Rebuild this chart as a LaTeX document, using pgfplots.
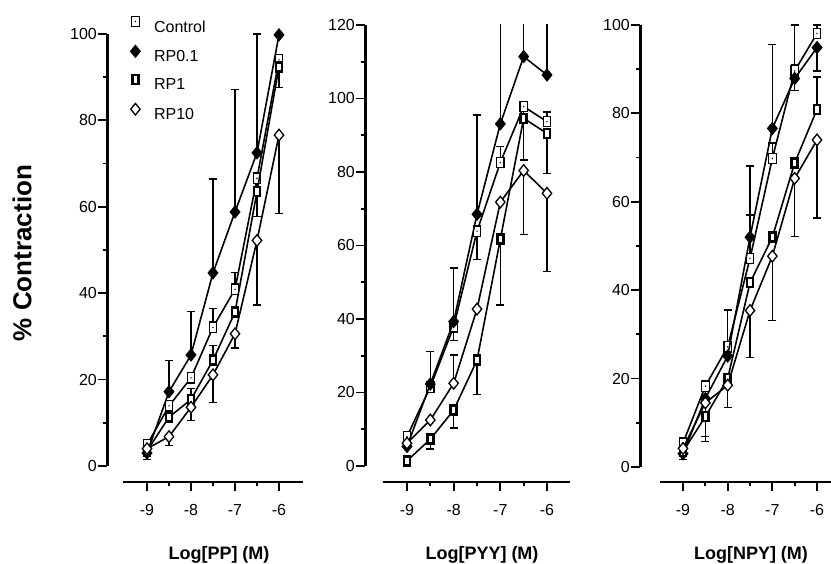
\documentclass[border=0pt]{standalone}
\usepackage{fontspec}
\setmainfont{Liberation Sans}
\usepackage{pgfplots}
\usepackage{pgfplotstable}
\pgfplotsset{compat=1.18}

% marks of the four series
\pgfdeclareplotmark{ctl}{%
  \pgfpathrectangle{\pgfqpoint{-3.8pt}{-5.2pt}}{\pgfqpoint{7.6pt}{10.4pt}}\pgfusepathqfillstroke
  \begin{pgfscope}\pgfsetfillcolor{black}\pgfpathcircle{\pgfpointorigin}{0.8pt}\pgfusepathqfill\end{pgfscope}}
\pgfdeclareplotmark{thk}{%
  \begin{pgfscope}\pgfsetlinewidth{2.6pt}%
  \pgfpathrectangle{\pgfqpoint{-3pt}{-4.5pt}}{\pgfqpoint{6pt}{9pt}}\pgfusepathqfillstroke\end{pgfscope}}
\pgfdeclareplotmark{dia}{%
  \pgfpathmoveto{\pgfqpoint{0pt}{5.8pt}}\pgfpathlineto{\pgfqpoint{4.7pt}{0pt}}%
  \pgfpathlineto{\pgfqpoint{0pt}{-5.8pt}}\pgfpathlineto{\pgfqpoint{-4.7pt}{0pt}}%
  \pgfpathclose\pgfusepathqfillstroke}

\pgfplotsset{
  panel/.style={anchor=south west, clip mode=individual,
    axis x line*=bottom, axis y line*=left, axis line style={draw=none},
    tick align=outside, major tick length=9pt, minor tick length=4.5pt,
    every tick/.style={black, line width=1.8pt},
    xtick={-9,-8,-7,-6}, xticklabels={-9,-8,-7,-6}, minor xtick={-8.5,-7.5,-6.5},
    ticklabel style={font=\fontsize{16}{16}\selectfont},
    yticklabel style={inner sep=1pt},
    xticklabel style={yshift=-10pt},
    /pgf/number format/assume math mode=true},
  ctl/.style={black, line width=1.6pt, mark=ctl, mark options={fill=white, line width=1.3pt}},
  rpa/.style={black, line width=1.6pt, mark=dia, mark options={fill=black, line width=1.3pt}},
  rpb/.style={black, line width=1.6pt, mark=thk, mark options={fill=white}},
  rpc/.style={black, line width=1.6pt, mark=dia, mark options={fill=white, line width=1.3pt}},
  ebar/.style={black, forget plot, only marks, mark=none,
    error bars/.cd, y dir=#1, y explicit,
    error bar style={line width=1.3pt, black},
    error mark=|,
    error mark options={mark size=4pt, line width=1.3pt, black}},
}

\pgfplotstableread{
x ctl rpa rpb rpc
-9 4.9 3.0 3.5 4.0
-8.5 13.9 17.2 11.3 6.8
-8 20.4 25.7 15.4 13.6
-7.5 32.1 44.7 24.5 21.1
-7 40.9 58.8 35.6 30.6
-6.5 66.6 72.5 63.5 52.2
-6 94.0 99.8 92.4 76.6
}\pp

\pgfplotstableread{
x ctl rpa rpb rpc
-9 8.0 5.3 1.4 6.2
-8.5 21.5 22.3 7.3 12.5
-8 37.9 39.3 15.2 22.5
-7.5 63.9 68.5 28.8 42.7
-7 82.6 93.1 61.7 71.8
-6.5 97.8 111.4 94.6 80.4
-6 93.7 106.4 90.5 74.2
}\pyy

\pgfplotstableread{
x ctl rpa rpb rpc
-9 5.4 3.0 3.5 4.2
-8.5 18.3 15.5 11.4 14.5
-8 27.2 25.1 20.0 18.5
-7.5 47.2 52.0 41.7 35.4
-7 69.8 76.6 52.0 47.7
-6.5 89.6 87.9 68.8 65.3
-6 98.1 94.9 80.9 74.0
}\npy

\begin{document}
\begin{tikzpicture}
\path[use as bounding box] (0pt,0pt) rectangle (831pt,564pt);

% ---- PP
\begin{axis}[panel, at={(107pt,82pt)}, x=44pt, y=4.32pt,
  xmin=-9.909, xmax=-5.4545, ymin=-3.7037, ymax=100,
  ytick={0,20,...,100}, minor ytick={10,30,...,90},
  legend style={at={(0.12,1.04)}, anchor=north west, draw=none, fill=none,
    font=\fontsize{16}{16}\selectfont, row sep=11pt, column sep=13pt,
    inner sep=0pt, nodes={inner sep=1pt}},
  legend cell align=left,
  legend image code/.code={\draw[#1] plot coordinates {(4pt,5.5pt)};}]
\draw[line width=3pt] (axis cs:-9.909,0) -- (axis cs:-9.909,100);
\draw[line width=2.6pt] (axis cs:-9.545,-3.7037) -- (axis cs:-5.4545,-3.7037);
\addplot[ebar=plus] coordinates {(-8.5,17.2) +- (0,7.3) (-8,25.7) +- (0,10.0)
  (-7.5,44.7) +- (0,21.7) (-7,58.8) +- (0,28.4) (-6.5,72.5) +- (0,27.5)
  (-7.5,32.1) +- (0,4.4) (-7,40.9) +- (0,3.9) (-8,15.4) +- (0,2.6) (-7.5,24.5) +- (0,3.4)};
\addplot[ebar=minus] coordinates {(-6.5,66.6) +- (0,8.9) (-6,94.0) +- (0,6.4)
  (-8.5,6.8) +- (0,2.1) (-8,13.6) +- (0,3.0) (-7.5,21.1) +- (0,6.4)
  (-7,30.6) +- (0,3.3) (-6.5,52.2) +- (0,14.9) (-6,76.6) +- (0,18.1) (-9,3.5) +- (0,2.0)};
\addplot[ctl] table[x=x, y=ctl] {\pp};
\addlegendentry{Control}
\addplot[rpa] table[x=x, y=rpa] {\pp};
\addlegendentry{RP0.1}
\addplot[rpb] table[x=x, y=rpb] {\pp};
\addlegendentry{RP1}
\addplot[rpc] table[x=x, y=rpc] {\pp};
\addlegendentry{RP10}
\end{axis}

% ---- PYY
\begin{axis}[panel, at={(365pt,82pt)}, x=46.667pt, y=3.675pt,
  xmin=-9.9, xmax=-5.507, ymin=-4.354, ymax=120,
  ytick={0,20,...,120}, minor ytick={10,30,...,110}]
\draw[line width=3pt] (axis cs:-9.9,0) -- (axis cs:-9.9,120);
\draw[line width=2.6pt] (axis cs:-9.514,-4.354) -- (axis cs:-5.507,-4.354);
\addplot[ebar=plus] coordinates {(-8.5,22.3) +- (0,8.8) (-8,39.3) +- (0,14.6)
  (-7.5,68.5) +- (0,27.0) (-7,93.1) +- (0,40) (-6.5,111.4) +- (0,30) (-6,106.4) +- (0,30)
  (-7,82.6) +- (0,4.3) (-6,93.7) +- (0,2.6) (-8,22.5) +- (0,7.7)};
\addplot[ebar=minus] coordinates {(-8,37.9) +- (0,3.8) (-7.5,63.9) +- (0,7.8) (-6.5,97.8) +- (0,14.5)
  (-8.5,7.3) +- (0,2.7) (-8,15.2) +- (0,4.9) (-7.5,28.8) +- (0,9.3) (-7,61.7) +- (0,17.9)
  (-6,90.5) +- (0,10.9) (-6.5,80.4) +- (0,17.5) (-6,74.2) +- (0,21.3)};
\addplot[ctl] table[x=x, y=ctl] {\pyy};
\addplot[rpa] table[x=x, y=rpa] {\pyy};
\addplot[rpb] table[x=x, y=rpb] {\pyy};
\addplot[rpc] table[x=x, y=rpc] {\pyy};
\end{axis}

% ---- NPY
\begin{axis}[panel, at={(640pt,82pt)}, x=44.667pt, y=4.42pt,
  xmin=-9.963, xmax=-5.6, ymin=-3.394, ymax=100,
  ytick={0,20,...,100}, minor ytick={10,30,...,90}]
\draw[line width=3pt] (axis cs:-9.963,0) -- (axis cs:-9.963,100);
\draw[line width=2.6pt] (axis cs:-9.515,-3.394) -- (axis cs:-5.6,-3.394);
\addplot[ebar=plus] coordinates {(-7.5,52.0) +- (0,16.1) (-7,76.6) +- (0,19.0) (-6.5,87.9) +- (0,12.1)
  (-8,27.2) +- (0,8.3) (-7.5,47.2) +- (0,9.8) (-7,69.8) +- (0,3.5) (-6.5,89.6) +- (0,1.4)
  (-6,98.1) +- (0,1.9) (-6,80.9) +- (0,7.3)};
\addplot[ebar=minus] coordinates {(-6.5,87.9) +- (0,2.8) (-6,94.9) +- (0,5.3) (-8.5,11.4) +- (0,5.7)
  (-8.5,14.5) +- (0,7.6) (-8,18.5) +- (0,5.1) (-7.5,35.4) +- (0,10.6) (-7,47.7) +- (0,14.6)
  (-6.5,65.3) +- (0,13.2) (-6,74.0) +- (0,17.7) (-9,3.5) +- (0,1.8)};
\addplot[ctl] table[x=x, y=ctl] {\npy};
\addplot[rpa] table[x=x, y=rpa] {\npy};
\addplot[rpb] table[x=x, y=rpb] {\npy};
\addplot[rpc] table[x=x, y=rpc] {\npy};
\end{axis}

\node[rotate=90, font=\bfseries\fontsize{26}{26}\selectfont] at (22pt,311pt) {\% Contraction};
\node[anchor=base, font=\bfseries\fontsize{18}{18}\selectfont] at (219pt,4pt) {Log[PP] (M)};
\node[anchor=base, font=\bfseries\fontsize{18}{18}\selectfont] at (482pt,4pt) {Log[PYY] (M)};
\node[anchor=base, font=\bfseries\fontsize{18}{18}\selectfont] at (751pt,4pt) {Log[NPY] (M)};
\end{tikzpicture}
\end{document}
